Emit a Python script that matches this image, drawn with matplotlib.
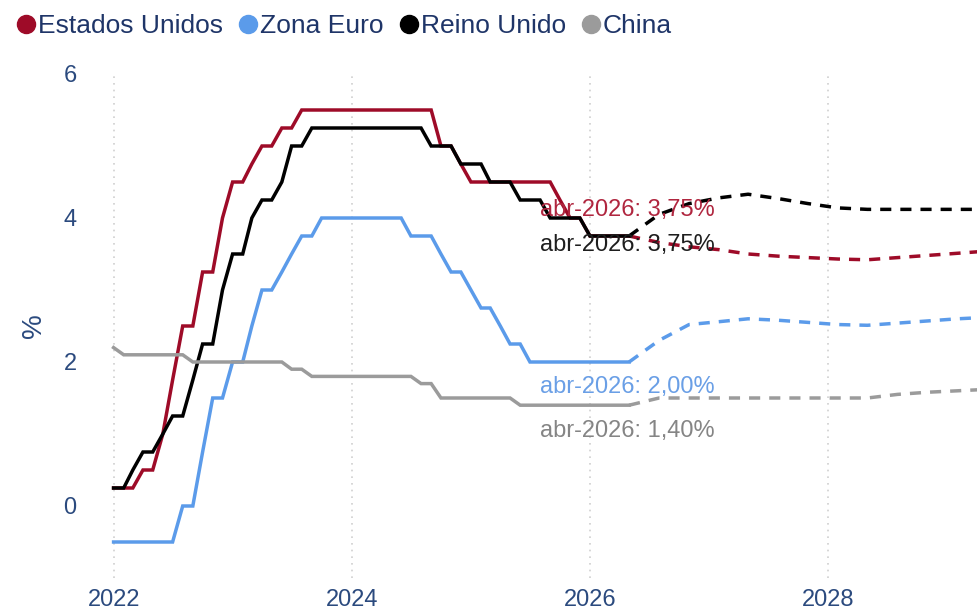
import matplotlib
matplotlib.use("Agg")
import matplotlib.pyplot as plt
import matplotlib.dates as mdates
from matplotlib.lines import Line2D
import pandas as pd

plt.rcParams['font.family'] = ['Liberation Sans', 'DejaVu Sans']

# ---------------- data ----------------
series_names = ["Estados Unidos", "Zona Euro", "Reino Unido", "China"]
series_colors = ["#9E0B28", "#5B9BEA", "#000000", "#9B9B9B"]
label_colors = ["#B0263F", "#6A9FE6", "#1E1E1E", "#858585"]

# month-end observations, Dec 2021 .. Apr 2026
hist_dates = pd.date_range("2021-12-31", "2026-04-30", freq="ME")

us_hist = [0.25, 0.25, 0.25, 0.5, 0.5, 1.0, 1.75, 2.5, 2.5, 3.25, 3.25, 4.0, 4.5,
           4.5, 4.75, 5.0, 5.0, 5.25, 5.25, 5.5, 5.5, 5.5, 5.5, 5.5, 5.5,
           5.5, 5.5, 5.5, 5.5, 5.5, 5.5, 5.5, 5.5, 5.0, 5.0, 4.75, 4.5,
           4.5, 4.5, 4.5, 4.5, 4.5, 4.5, 4.5, 4.5, 4.25, 4.0, 4.0, 3.75,
           3.75, 3.75, 3.75, 3.75]
euro_hist = [-0.5, -0.5, -0.5, -0.5, -0.5, -0.5, -0.5, 0.0, 0.0, 0.75, 1.5, 1.5, 2.0,
             2.0, 2.5, 3.0, 3.0, 3.25, 3.5, 3.75, 3.75, 4.0, 4.0, 4.0, 4.0,
             4.0, 4.0, 4.0, 4.0, 4.0, 3.75, 3.75, 3.75, 3.5, 3.25, 3.25, 3.0,
             2.75, 2.75, 2.5, 2.25, 2.25, 2.0, 2.0, 2.0, 2.0, 2.0, 2.0, 2.0,
             2.0, 2.0, 2.0, 2.0]
uk_hist = [0.25, 0.25, 0.5, 0.75, 0.75, 1.0, 1.25, 1.25, 1.75, 2.25, 2.25, 3.0, 3.5,
           3.5, 4.0, 4.25, 4.25, 4.5, 5.0, 5.0, 5.25, 5.25, 5.25, 5.25, 5.25,
           5.25, 5.25, 5.25, 5.25, 5.25, 5.25, 5.25, 5.0, 5.0, 5.0, 4.75, 4.75,
           4.75, 4.5, 4.5, 4.5, 4.25, 4.25, 4.25, 4.0, 4.0, 4.0, 4.0, 3.75,
           3.75, 3.75, 3.75, 3.75]
china_hist = [2.2, 2.1, 2.1, 2.1, 2.1, 2.1, 2.1, 2.1, 2.0, 2.0, 2.0, 2.0, 2.0,
              2.0, 2.0, 2.0, 2.0, 2.0, 1.9, 1.9, 1.8, 1.8, 1.8, 1.8, 1.8,
              1.8, 1.8, 1.8, 1.8, 1.8, 1.8, 1.7, 1.7, 1.5, 1.5, 1.5, 1.5,
              1.5, 1.5, 1.5, 1.5, 1.4, 1.4, 1.4, 1.4, 1.4, 1.4, 1.4, 1.4,
              1.4, 1.4, 1.4, 1.4]

# market-implied path (quarterly), from Apr 2026
fc_dates = pd.to_datetime(["2026-04-30", "2026-07-31", "2026-10-31", "2027-01-31",
                           "2027-04-30", "2027-07-31", "2027-10-31", "2028-01-31",
                           "2028-04-30", "2028-07-31", "2028-10-31", "2029-01-31",
                           "2029-04-30"])
us_fc = [3.75, 3.66, 3.60, 3.56, 3.50, 3.47, 3.45, 3.43, 3.42, 3.45, 3.48, 3.51, 3.54]
euro_fc = [2.0, 2.30, 2.52, 2.56, 2.60, 2.58, 2.55, 2.52, 2.51, 2.54, 2.57, 2.60, 2.62]
uk_fc = [3.75, 4.05, 4.20, 4.28, 4.33, 4.27, 4.20, 4.14, 4.12, 4.12, 4.12, 4.12, 4.12]
china_fc = [1.4, 1.50, 1.50, 1.50, 1.50, 1.50, 1.50, 1.50, 1.50, 1.55, 1.58, 1.60, 1.62]

end_labels = ["abr-2026: 3,75%", "abr-2026: 2,00%", "abr-2026: 3,75%", "abr-2026: 1,40%"]
y_ticks = [0, 2, 4, 6]
y_label = "%"

hist = [us_hist, euro_hist, uk_hist, china_hist]
fcs = [us_fc, euro_fc, uk_fc, china_fc]
label_offsets_px = [(-89, 26), (-89, -25), (-89, -9), (-89, -26)]

# ---------------- figure ----------------
navy = "#2B4A7E"
fig = plt.figure(figsize=(9.77, 6.12), dpi=100)
ax = fig.add_axes([110 / 977, 34 / 612, (977 - 110) / 977, (578 - 74) / 612])

for h, f, c in zip(hist, fcs, series_colors):
    ax.plot(hist_dates, h, color=c, lw=2.5, solid_joinstyle="miter", zorder=3)
    ax.plot(fc_dates, f, color=c, lw=2.5, dashes=(3.2, 2.6), zorder=3)

for h, lab, lc, off in zip(hist, end_labels, label_colors, label_offsets_px):
    ax.annotate(lab, xy=(hist_dates[-1], h[-1]), xytext=off,
                textcoords="offset pixels", color=lc, fontsize=17,
                ha="left", va="center", zorder=4)

ax.set_xlim(pd.Timestamp("2021-12-20"), pd.Timestamp("2029-04-01"))
ax.set_ylim(-1.0, 6.0)
ax.set_yticks(y_ticks)
ax.xaxis.set_major_locator(mdates.YearLocator(2))
ax.xaxis.set_major_formatter(mdates.DateFormatter("%Y"))
ax.grid(axis="x", color="#CFCFCF", linestyle=(0, (1, 3)), lw=1.2)
ax.grid(axis="y", visible=False)
for s in ax.spines.values():
    s.set_visible(False)
ax.tick_params(axis="both", length=0, labelsize=17, colors=navy)
ax.tick_params(axis="y", pad=24)
ax.tick_params(axis="x", pad=8)
ax.set_ylabel(y_label, color=navy, fontsize=20, labelpad=12)

handles = [Line2D([], [], ls="none", marker="o", markersize=13,
                  markerfacecolor=c, markeredgecolor=c) for c in series_colors]
fig.legend(handles, series_names, loc="upper left", bbox_to_anchor=(0.012, 0.985),
           ncol=4, frameon=False, fontsize=19, handlelength=0.7,
           handletextpad=0.1, columnspacing=0.6, borderpad=0.2,
           borderaxespad=0.0, labelcolor="#1F3568")

fig.savefig("out.png", dpi=100)
